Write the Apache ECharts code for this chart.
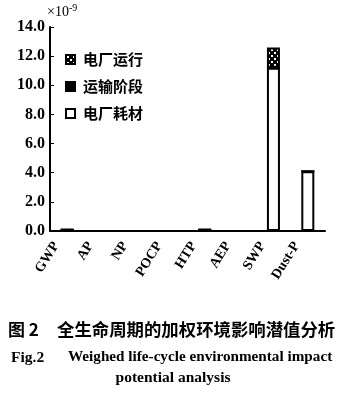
<!DOCTYPE html>
<html><head><meta charset="utf-8">
<script src="https://cdn.jsdelivr.net/npm/echarts@6/dist/echarts.min.js"></script>
<style>html,body{margin:0;padding:0;background:#fff}#c{width:346px;height:399px}</style>
</head><body><div id="c"></div>
<script>
const categories = ['GWP','AP','NP','POCP','HTP','AEP','SWP','Dust-P'];
const consumables = [0.1, 0, 0, 0, 0.1, 0, 11.2, 4.1];   // 电厂耗材
const transport   = [0, 0, 0, 0, 0, 0, 0, 0];            // 运输阶段
const operation   = [0, 0, 0, 0, 0, 0, 1.4, 0];          // 电厂运行
const yTicks = { min: 0, max: 14, interval: 2 };

const cv = document.createElement('canvas');
cv.width = 6; cv.height = 6;
const cx = cv.getContext('2d');
cx.fillStyle = '#000'; cx.fillRect(0,0,6,6);
cx.fillStyle = '#fff'; cx.fillRect(1,1,2,2); cx.fillRect(4,4,2,2);
const checker = { image: cv, repeat: 'repeat' };

const serif = '"Liberation Serif","DejaVu Serif",serif';
const cjk = '"Noto Sans CJK SC","Noto Sans",sans-serif';
const chart = echarts.init(document.getElementById('c'), null, {renderer:'canvas'});
chart.setOption({
  animation: false,
  backgroundColor: '#fff',
  grid: { left: 50, right: 21, top: 27, bottom: 168 },
  legend: {
    orient: 'vertical', left: 60, top: 47, itemWidth: 9, itemHeight: 9, itemGap: 12,
    icon: 'rect',
    data: ['电厂运行','运输阶段','电厂耗材'],
    textStyle: { fontFamily: cjk, fontSize: 15, fontWeight: 'bold', color: '#000', padding: [0,0,0,3] },
    selectedMode: false
  },
  xAxis: {
    type: 'category', data: categories,
    axisLine: { lineStyle: { color: '#000', width: 2 } },
    axisTick: { inside: true, length: 4, lineStyle: { color: '#000', width: 1 } },
    axisLabel: { interval: 0, rotate: 58, margin: 19, verticalAlign: 'bottom', padding: [0,0,6,0],
      color: '#000', fontFamily: serif, fontSize: 14, fontWeight: 'bold' }
  },
  yAxis: {
    type: 'value', min: yTicks.min, max: yTicks.max, interval: yTicks.interval,
    name: '×10{s|-9}', nameLocation: 'end', nameGap: 6,
    nameTextStyle: { fontFamily: serif, fontSize: 14, color: '#000', align: 'left', padding: [0,0,0,-3],
      rich: { s: { fontFamily: serif, fontSize: 10, verticalAlign: 'top', padding: [0,0,7,0] } } },
    splitLine: { show: false },
    axisLine: { show: true, lineStyle: { color: '#000', width: 2 } },
    axisTick: { show: true, inside: true, length: 4, lineStyle: { color: '#000', width: 1 } },
    axisLabel: { color: '#000', fontFamily: serif, fontSize: 16, fontWeight: 'bold', margin: 5,
      formatter: v => v.toFixed(1) }
  },
  series: [
    { name: '电厂耗材', type: 'bar', stack: 's', data: consumables, barWidth: 13,
      itemStyle: { color: '#fff', borderColor: '#000', borderWidth: 2 } },
    { name: '运输阶段', type: 'bar', stack: 's', data: transport, barWidth: 13,
      itemStyle: { color: '#000', borderColor: '#000', borderWidth: 1 } },
    { name: '电厂运行', type: 'bar', stack: 's', data: operation, barWidth: 13,
      itemStyle: { color: checker, borderColor: '#000', borderWidth: 2 } }
  ],
  graphic: [
    { type: 'text', left: 8, top: 321, style: { text: '图 2', fontFamily: cjk, fontSize: 17, fontWeight: 'bold', fill: '#000' } },
    { type: 'text', left: 57, top: 321, style: { text: '全生命周期的加权环境影响潜值分析', fontFamily: cjk, fontSize: 17.4, fontWeight: 'bold', fill: '#000' } },
    { type: 'text', left: 11, top: 350, style: { text: 'Fig.2', fontFamily: serif, fontSize: 15.5, fontWeight: 'bold', fill: '#000' } },
    { type: 'text', left: 68, top: 350, style: { text: 'Weighed life-cycle environmental impact', fontFamily: serif, fontSize: 15.2, fontWeight: 'bold', fill: '#000' } },
    { type: 'text', left: 'center', top: 370, style: { text: 'potential analysis', fontFamily: serif, fontSize: 15.5, fontWeight: 'bold', fill: '#000' } }
  ]
});
</script></body></html>
